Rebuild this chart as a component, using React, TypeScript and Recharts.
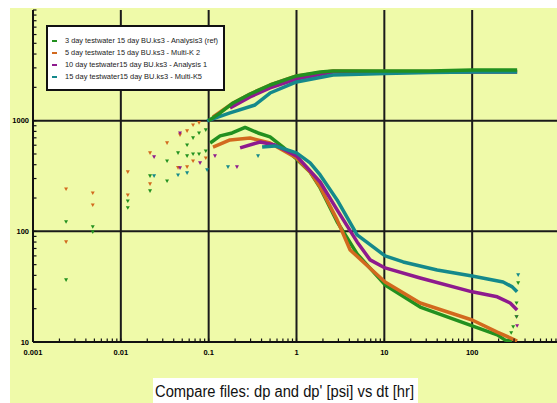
import React from 'react';
import { ScatterChart, Scatter, XAxis, YAxis, ReferenceLine } from 'recharts';

// ---------- series meta ----------
const seriesNames = [
  '3 day testwater 15 day BU.ks3 - Analysis3 (ref)',
  '5 day testwater 15 day BU.ks3 - Multi-K 2',
  '10 day testwater15 day BU.ks3 - Analysis 1',
  '15 day testwater15 day BU.ks3 - Multi-K5',
];
const seriesColors = ['#22901f', '#d2691e', '#8e1a8e', '#14898b'];

// ---------- axis ticks ----------
const xMajorTicks = [0.001, 0.01, 0.1, 1, 10, 100, 1000];
const xMajorLabels = ['0.001', '0.01', '0.1', '1', '10', '100', ''];
const yMajorTicks = [10, 100, 1000, 10000];
const yMajorLabels = ['10', '100', '1000', ''];
const minorSteps = [1, 2, 3, 4, 5, 6, 7, 8, 9];

// ---------- 3 day (green) ----------
const greenEarlyDt = [0.00238, 0.00238, 0.00479, 0.00479, 0.0120, 0.0120, 0.0215, 0.0215, 0.0336, 0.0336, 0.0448, 0.0568, 0.0568, 0.0664, 0.0664, 0.0777, 0.0777, 0.0927, 0.0927];
const greenEarlyDp = [122, 36.4, 110, 98.8, 188, 163, 317, 232, 432, 285, 511, 603, 480, 698, 500, 774, 500, 824, 532];
const greenPressDt = [0.1, 0.135, 0.19, 0.296, 0.5, 1.0, 1.86, 2.61, 10.2, 33.2, 100, 225, 325];
const greenPressDp = [1000, 1174, 1445, 1742, 2101, 2535, 2754, 2810, 2810, 2810, 2870, 2870, 2870];
const greenDerivDt = [0.104, 0.135, 0.185, 0.26, 0.365, 0.5, 0.703, 1.0, 1.43, 1.86, 2.9, 4.9, 10.2, 25.6, 100, 193, 238, 286];
const greenDerivDp = [629, 728, 774, 868, 774, 713, 578, 451, 344, 247, 122, 62.5, 32.8, 20.7, 14.0, 11.6, 10.4, 10.2];
const greenTailDt = [278, 293, 320, 320, 334];
const greenTailDp = [12.1, 13.7, 16.9, 22.5, 34.2];

// ---------- 5 day (orange) ----------
const orangeEarlyDt = [0.00238, 0.00238, 0.00479, 0.00479, 0.0120, 0.0120, 0.0215, 0.0215, 0.0336, 0.0448, 0.0472, 0.0568, 0.0568, 0.0664, 0.0664, 0.0777, 0.0927];
const orangeEarlyDp = [241, 80.2, 222, 173, 344, 213, 511, 268, 629, 376, 743, 807, 382, 914, 432, 959, 460];
const orangePressDt = [0.112, 0.19, 0.296, 0.5, 1.0, 2.61, 10.2, 100, 325];
const orangePressDp = [1080, 1445, 1742, 2101, 2535, 2810, 2780, 2780, 2780];
const orangeDerivDt = [0.112, 0.175, 0.296, 0.5, 1.0, 1.43, 1.86, 2.9, 4.08, 10.2, 25.6, 100, 193, 271, 325];
const orangeDerivDp = [578, 669, 698, 629, 460, 344, 252, 127, 67.9, 34.9, 22.5, 15.8, 12.3, 10.9, 10.2];

// ---------- 10 day (purple) ----------
const purpleEarlyDt = [0.0239, 0.0472, 0.0472, 0.0798, 0.118, 0.21, 320, 325];
const purpleEarlyDp = [470, 774, 374, 415, 480, 382, 16.9, 14.0];
const purplePressDt = [0.175, 0.296, 0.5, 1.0, 2.61, 10.2, 33.2, 325];
const purplePressDp = [1302, 1637, 1975, 2380, 2754, 2754, 2754, 2754];
const purpleDerivDt = [0.228, 0.385, 0.57, 1.0, 1.86, 2.9, 4.9, 6.89, 10.2, 25.6, 100, 193, 271, 325];
const purpleDerivDp = [567, 642, 603, 480, 279, 156, 80.2, 55.2, 46.7, 37.9, 28.4, 25.6, 22.5, 19.5];

// ---------- 15 day (teal) ----------
const tealEarlyDt = [0.0239, 0.0448, 0.0568, 0.096, 0.166, 0.365, 334];
const tealEarlyDp = [317, 323, 337, 359, 382, 480, 40.4];
const tealPressDt = [0.096, 0.175, 0.337, 0.5, 1.0, 2.61, 10.2, 33.2, 100, 325];
const tealPressDp = [994, 1174, 1386, 1778, 2237, 2587, 2670, 2725, 2754, 2754];
const tealDerivDt = [0.406, 0.57, 1.0, 1.43, 1.86, 2.9, 4.9, 10.2, 16.4, 39.9, 100, 225, 286, 325];
const tealDerivDp = [578, 591, 511, 415, 323, 192, 92.8, 60.0, 52.9, 44.8, 39.5, 34.9, 31.5, 28.4];

type Pt = { dt: number; dp: number };
const zip = (dt: number[], dp: number[]): Pt[] => dt.map((d, i) => ({ dt: d, dp: dp[i] }));

const xTicks = xMajorTicks.slice(0, -1).flatMap((d) => minorSteps.map((k) => +(d * k).toPrecision(3))).concat([1000]);
const yTicks = yMajorTicks.slice(0, -1).flatMap((d) => minorSteps.map((k) => d * k)).concat([10000]);

const near = (a: number, b: number) => Math.abs(a - b) / b < 1e-6;

const AXIS_FONT = 'Liberation Sans, Arial, sans-serif';

const BottomTick = (props: any) => {
  const { x, y, payload } = props;
  const i = xMajorTicks.findIndex((m) => near(payload.value, m));
  return (
    <g>
      <line x1={x} x2={x} y1={y} y2={y - 3.5} stroke="#111" strokeWidth={1.2} />
      {i >= 0 && xMajorLabels[i] && (
        <text x={x} y={y + 13} textAnchor="middle" fontSize={7.5} fontWeight="bold" fontFamily={AXIS_FONT} fill="#000">
          {xMajorLabels[i]}
        </text>
      )}
    </g>
  );
};

const TopTick = (props: any) => {
  const { x, y } = props;
  return <line x1={x} x2={x} y1={y} y2={y + 3.5} stroke="#111" strokeWidth={1.2} />;
};

const LeftTick = (props: any) => {
  const { x, y, payload } = props;
  const i = yMajorTicks.findIndex((m) => near(payload.value, m));
  return (
    <g>
      <line x1={x} x2={x + 3.5} y1={y} y2={y} stroke="#111" strokeWidth={1.2} />
      {i >= 0 && yMajorLabels[i] && (
        <text x={x - 4} y={y + 2.8} textAnchor="end" fontSize={7.5} fontWeight="bold" fontFamily={AXIS_FONT} fill="#000">
          {yMajorLabels[i]}
        </text>
      )}
    </g>
  );
};

const makeTri = (color: string) => (p: any) => {
  const { cx, cy } = p;
  if (cx == null || cy == null) return <g />;
  return <path d={`M${cx - 2},${cy - 1.6} L${cx + 2},${cy - 1.6} L${cx},${cy + 2} Z`} fill={color} />;
};
const noDot = () => <g />;

const groups = [
  { color: seriesColors[0], early: zip(greenEarlyDt, greenEarlyDp), press: zip(greenPressDt, greenPressDp), deriv: zip(greenDerivDt, greenDerivDp), tail: zip(greenTailDt, greenTailDp) },
  { color: seriesColors[1], early: zip(orangeEarlyDt, orangeEarlyDp), press: zip(orangePressDt, orangePressDp), deriv: zip(orangeDerivDt, orangeDerivDp), tail: [] as Pt[] },
  { color: seriesColors[2], early: zip(purpleEarlyDt, purpleEarlyDp), press: zip(purplePressDt, purplePressDp), deriv: zip(purpleDerivDt, purpleDerivDp), tail: [] as Pt[] },
  { color: seriesColors[3], early: zip(tealEarlyDt, tealEarlyDp), press: zip(tealPressDt, tealPressDp), deriv: zip(tealDerivDt, tealDerivDp), tail: [] as Pt[] },
];

const pressOrder = [1, 2, 3, 0];
const derivOrder = [0, 1, 2, 3];

const legendWidths = [153, 135, 142, 137];

export default function App() {
  return (
    <div style={{ position: 'absolute', left: 0, top: 0, width: 557, height: 403, overflow: 'hidden', background: '#ffffff' }}>
      <div style={{ position: 'absolute', left: 10, top: 8, width: 547, height: 395, background: '#effaa9' }} />
      <div style={{ position: 'absolute', left: 0, top: 0 }}>
        <ScatterChart width={570} height={403} margin={{ top: 10, right: 10, bottom: 31, left: 0 }}>
          <XAxis
            xAxisId="top"
            orientation="top"
            type="number"
            dataKey="dt"
            scale="log"
            domain={[0.001, 1000]}
            allowDataOverflow
            ticks={xTicks}
            interval={0}
            height={0}
            tickSize={0}
            tickMargin={0}
            tick={<TopTick />}
            axisLine={{ stroke: '#111', strokeWidth: 2 }}
            tickLine={false}
          />
          <XAxis
            type="number"
            dataKey="dt"
            scale="log"
            domain={[0.001, 1000]}
            allowDataOverflow
            ticks={xTicks}
            interval={0}
            height={30}
            tickSize={0}
            tickMargin={0}
            tick={<BottomTick />}
            axisLine={{ stroke: '#111', strokeWidth: 2 }}
            tickLine={false}
          />
          <YAxis
            type="number"
            dataKey="dp"
            scale="log"
            domain={[10, 10000]}
            allowDataOverflow
            ticks={yTicks}
            interval={0}
            width={33}
            tickSize={0}
            tickMargin={0}
            tick={<LeftTick />}
            axisLine={{ stroke: '#111', strokeWidth: 2 }}
            tickLine={false}
          />
          {xMajorTicks.slice(1, -1).map((v) => (
            <ReferenceLine key={'vx' + v} x={v} stroke="#1a1a1a" strokeWidth={2} />
          ))}
          {[100, 1000].map((v) => (
            <ReferenceLine key={'hy' + v} y={v} stroke="#1a1a1a" strokeWidth={2} />
          ))}
          {groups.map((g, i) => (
            <Scatter key={'e' + i} data={g.early} fill={g.color} shape={makeTri(g.color)} isAnimationActive={false} />
          ))}
          {pressOrder.map((i) => (
            <Scatter
              key={'p' + i}
              data={groups[i].press}
              fill={groups[i].color}
              line={{ stroke: groups[i].color, strokeWidth: 3.5, strokeLinejoin: 'round' }}
              shape={noDot}
              isAnimationActive={false}
            />
          ))}
          {derivOrder.map((i) => (
            <Scatter
              key={'d' + i}
              data={groups[i].deriv}
              fill={groups[i].color}
              line={{ stroke: groups[i].color, strokeWidth: 3.5, strokeLinejoin: 'round' }}
              shape={noDot}
              isAnimationActive={false}
            />
          ))}
          {groups.map((g, i) =>
            g.tail.length ? (
              <Scatter key={'t' + i} data={g.tail} fill={g.color} shape={makeTri(g.color)} isAnimationActive={false} />
            ) : null
          )}
        </ScatterChart>
      </div>
      <svg width={557} height={403} style={{ position: 'absolute', left: 0, top: 0, pointerEvents: 'none' }}>
        <rect x={47} y={26} width={177} height={64} fill="#ffffff" stroke="#111" strokeWidth={2} />
        {seriesNames.map((n, i) => (
          <g key={n}>
            <line x1={52} x2={57} y1={41 + i * 12} y2={41 + i * 12} stroke={seriesColors[i]} strokeWidth={2} />
            <text
              x={65}
              y={43 + i * 12}
              fontSize={8}
              fontFamily={AXIS_FONT}
              fill="#1a1a1a"
              textLength={legendWidths[i]}
              lengthAdjust="spacingAndGlyphs"
            >
              {n}
            </text>
          </g>
        ))}
        <rect x={153} y={378} width={265} height={25} fill="#ffffff" />
        <text
          x={155}
          y={397}
          fontSize={16}
          fontFamily={AXIS_FONT}
          fill="#111"
          textLength={259}
          lengthAdjust="spacingAndGlyphs"
        >
          Compare files: dp and dp'  [psi] vs dt [hr]
        </text>
      </svg>
    </div>
  );
}
